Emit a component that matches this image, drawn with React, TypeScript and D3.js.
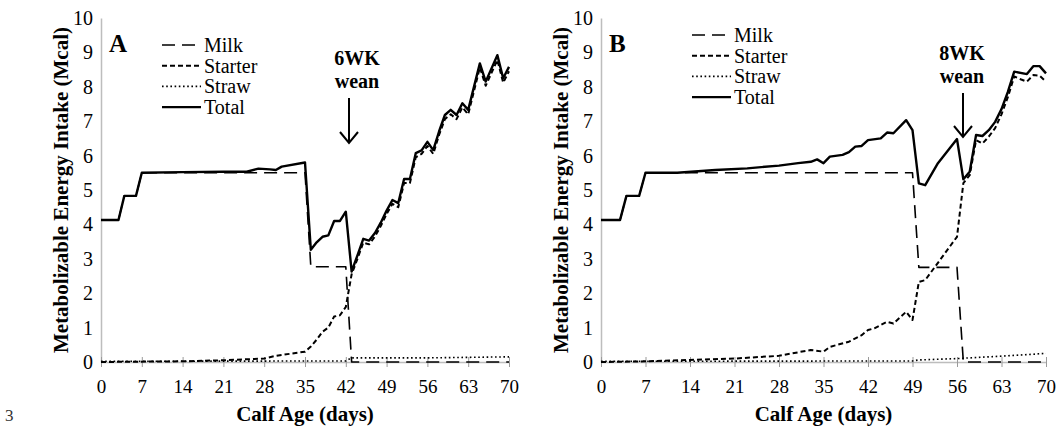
import React, { useEffect, useRef } from 'react'
import * as d3 from 'd3'

type Pt = [number, number]

// day, Mcal
const aMilk: Pt[] = [[0,4.13],[3,4.13],[4,4.83],[6,4.83],[7,5.5],[35,5.5],[36,2.77],[42,2.77],[43,0],[70,0]]
const aStarter: Pt[] = [[0,0],[14,0.02],[21,0.05],[28,0.1],[30,0.18],[35,0.3],[36,0.45],[37,0.65],[38,0.88],[39,1.0],[40,1.32],[41,1.36],[42,1.6],[43,2.55],[44,3.0],[45,3.47],[46,3.42],[47,3.65],[48,3.95],[49,4.3],[50,4.6],[51,4.5],[52,5.2],[53,5.2],[54,5.95],[55,6.05],[56,6.28],[57,6.05],[58,6.6],[59,7.06],[60,7.2],[61,7.06],[62,7.4],[63,7.2],[65,8.56],[66,8.03],[68,8.78],[69,8.12],[70,8.45]]
const aStraw: Pt[] = [[0,0.02],[42,0.03],[43,0.12],[56,0.12],[70,0.15]]
const aTotal: Pt[] = [[0,4.13],[3,4.13],[4,4.83],[6,4.83],[7,5.5],[14,5.52],[21,5.53],[25,5.53],[27,5.62],[29,5.6],[30,5.58],[31,5.68],[35,5.8],[36,3.26],[37,3.48],[38,3.64],[39,3.68],[40,4.1],[41,4.1],[42,4.37],[43,2.63],[44,3.1],[45,3.58],[46,3.53],[47,3.75],[48,4.05],[49,4.4],[50,4.71],[51,4.62],[52,5.32],[53,5.32],[54,6.07],[55,6.15],[56,6.4],[57,6.16],[58,6.7],[59,7.18],[60,7.33],[61,7.18],[62,7.52],[63,7.33],[65,8.68],[66,8.15],[68,8.92],[69,8.25],[70,8.58]]

const bMilk: Pt[] = [[0,4.13],[3,4.13],[4,4.83],[6,4.83],[7,5.5],[49,5.5],[50,2.75],[56,2.75],[57,0],[70,0]]
const bStarter: Pt[] = [[0,0],[7,0.02],[14,0.06],[21,0.1],[28,0.18],[33,0.35],[35,0.3],[36,0.44],[39,0.59],[41,0.78],[42,0.93],[43,0.98],[45,1.17],[46,1.12],[48,1.46],[49,1.22],[50,2.33],[51,2.38],[56,3.64],[57,5.2],[58,5.43],[59,6.45],[60,6.35],[61,6.55],[62,6.8],[63,7.2],[64,7.7],[65,8.3],[66,8.22],[67,8.15],[68,8.34],[69,8.32],[70,8.15]]
const bStraw: Pt[] = [[0,0.02],[49,0.03],[50,0.06],[56,0.1],[63,0.17],[70,0.25]]
const bTotal: Pt[] = [[0,4.13],[3,4.13],[4,4.83],[6,4.83],[7,5.5],[12,5.5],[18,5.58],[23,5.63],[28,5.71],[31,5.78],[33,5.82],[34,5.89],[35,5.78],[36,5.97],[38,6.02],[39,6.1],[40,6.26],[41,6.28],[42,6.45],[44,6.5],[45,6.67],[46,6.65],[48,7.03],[49,6.74],[50,5.19],[51,5.14],[53,5.78],[56,6.48],[57,5.31],[58,5.53],[59,6.6],[60,6.57],[61,6.74],[62,6.98],[63,7.35],[64,7.85],[65,8.44],[67,8.37],[68,8.6],[69,8.6],[70,8.39]]

const xTicks = [0, 7, 14, 21, 28, 35, 42, 49, 56, 63, 70]
const yTicks = [0, 1, 2, 3, 4, 5, 6, 7, 8, 9, 10]
const seriesNames = ['Milk', 'Starter', 'Straw', 'Total']

const serif = "'Liberation Serif', 'Times New Roman', Times, 'DejaVu Serif', serif"

export default function App() {
  const ref = useRef<SVGSVGElement>(null)

  useEffect(() => {
    const svg = d3.select(ref.current)
    svg.selectAll('*').remove()

    const styles: any = {
      Milk: { dash: '13,7', w: 1.6 },
      Starter: { dash: '5,3', w: 2 },
      Straw: { dash: '1.6,2.6', w: 1.6 },
      Total: { dash: null, w: 2.4 },
    }

    const panels = [
      { x0: 101, x1: 509, letter: 'A', wk: '6WK', arrowX: 349, arrowTop: 98, arrowTip: 143, textX: 357, legX: 162, legY: 45,
        data: { Milk: aMilk, Starter: aStarter, Straw: aStraw, Total: aTotal } },
      { x0: 601, x1: 1046, letter: 'B', wk: '8WK', arrowX: 963, arrowTop: 93, arrowTip: 137, textX: 962, legX: 692, legY: 35,
        data: { Milk: bMilk, Starter: bStarter, Straw: bStraw, Total: bTotal } },
    ]

    panels.forEach(p => {
      const x = d3.scaleLinear().domain([0, 70]).range([p.x0, p.x1])
      const y = d3.scaleLinear().domain([0, 10]).range([362, 18])
      const g = svg.append('g').style('font-family', serif)

      // y axis
      const ya = g.append('g').attr('transform', `translate(${p.x0},0)`)
        .call(d3.axisLeft(y).tickValues(yTicks).tickSize(0).tickPadding(8))
      ya.attr('font-family', null)
      ya.select('.domain').attr('stroke', '#bdbdbd').attr('stroke-width', 1.5)
      ya.selectAll('text').attr('font-size', 20).attr('fill', '#000')

      // x axis
      const xa = g.append('g').attr('transform', `translate(0,${y(0)})`)
        .call(d3.axisBottom(x).tickValues(xTicks).tickSizeInner(5).tickSizeOuter(0).tickPadding(13))
      xa.attr('font-family', null)
      xa.select('.domain').attr('stroke', '#bdbdbd').attr('stroke-width', 1.5)
      xa.selectAll('.tick line').attr('y1', -5).attr('stroke', '#9a9a9a')
      xa.selectAll('text').attr('font-size', 19).attr('fill', '#000')

      // axis titles
      g.append('text')
        .attr('transform', `translate(${p.x0 - 40},${y(5)}) rotate(-90)`)
        .attr('text-anchor', 'middle').attr('dy', '0.35em')
        .attr('font-weight', 'bold').attr('font-size', 21)
        .text('Metabolizable Energy Intake (Mcal)')
      g.append('text')
        .attr('x', (p.x0 + p.x1) / 2).attr('y', 421)
        .attr('text-anchor', 'middle')
        .attr('font-weight', 'bold').attr('font-size', 21)
        .text('Calf Age (days)')

      // series
      const line = d3.line<Pt>().x(d => x(d[0])).y(d => y(d[1]))
      ;['Straw', 'Starter', 'Milk', 'Total'].forEach(name => {
        const s = styles[name]
        g.append('path')
          .attr('d', line((p.data as any)[name]))
          .attr('fill', 'none').attr('stroke', '#000')
          .attr('stroke-width', s.w)
          .attr('stroke-dasharray', s.dash)
          .attr('stroke-linejoin', 'round')
      })

      // panel letter
      g.append('text').attr('x', p.x0 + 8).attr('y', 52)
        .attr('font-weight', 'bold').attr('font-size', 25)
        .text(p.letter)

      // legend
      seriesNames.forEach((name, i) => {
        const s = styles[name]
        const ly = p.legY + i * 20.7
        g.append('line').attr('x1', p.legX).attr('x2', p.legX + 39).attr('y1', ly).attr('y2', ly)
          .attr('stroke', '#000').attr('stroke-width', s.w).attr('stroke-dasharray', s.dash)
        g.append('text').attr('x', p.legX + 42).attr('y', ly).attr('dy', '0.35em')
          .attr('font-size', 20).text(name)
      })

      // wean annotation
      g.append('text').attr('x', p.textX).attr('y', p.arrowTop - 33).attr('text-anchor', 'middle')
        .attr('font-weight', 'bold').attr('font-size', 20).text(p.wk)
      g.append('text').attr('x', p.textX).attr('y', p.arrowTop - 10).attr('text-anchor', 'middle')
        .attr('font-weight', 'bold').attr('font-size', 20).text('wean')
      g.append('line').attr('x1', p.arrowX).attr('x2', p.arrowX).attr('y1', p.arrowTop).attr('y2', p.arrowTip)
        .attr('stroke', '#000').attr('stroke-width', 2)
      g.append('path')
        .attr('d', `M${p.arrowX - 9},${p.arrowTip - 11}L${p.arrowX},${p.arrowTip}L${p.arrowX + 9},${p.arrowTip - 11}`)
        .attr('fill', 'none').attr('stroke', '#000').attr('stroke-width', 2)
    })

    // stray mark bottom-left of the scanned figure
    svg.append('text').attr('x', 5).attr('y', 421).style('font-family', serif)
      .attr('font-size', 17).attr('fill', '#333').text('3')
  }, [])

  return (
    <svg ref={ref} width={1058} height={426}
      style={{ position: 'absolute', left: 0, top: 0, background: '#fff' }} />
  )
}
